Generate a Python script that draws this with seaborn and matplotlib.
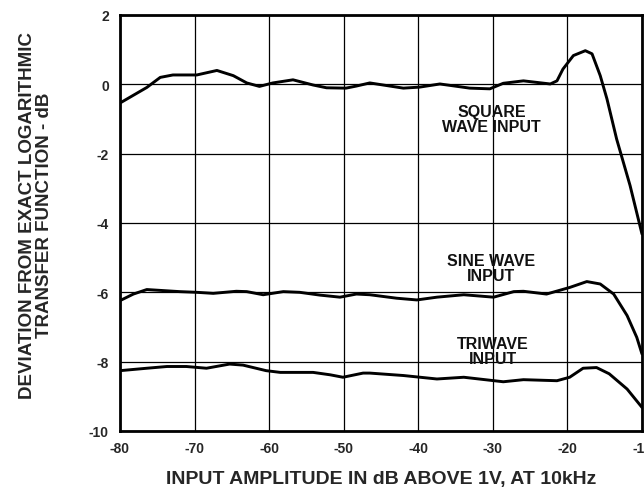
import pandas as pd
import matplotlib
matplotlib.use("Agg")
import matplotlib.pyplot as plt
import seaborn as sns

# Square wave input (deviation in dB vs input amplitude in dB above 1V)
square_x = [-80, -76.4, -74.6, -72.9, -69.7, -67.0, -64.8, -63.0, -61.3, -59.5, -56.8,
            -54.1, -52.3, -49.7, -48.3, -46.5, -42.0, -39.8, -37.1, -33.1, -30.4, -28.6,
            -25.9, -22.3, -21.4, -20.6, -19.2, -17.6, -16.7, -15.6, -14.7, -13.4, -11.6, -10.0]
square_y = [-0.54, -0.09, 0.20, 0.27, 0.27, 0.40, 0.25, 0.04, -0.06, 0.04, 0.13,
            -0.02, -0.10, -0.11, -0.05, 0.04, -0.11, -0.08, 0.01, -0.11, -0.13, 0.03,
            0.10, 0.01, 0.10, 0.44, 0.83, 0.97, 0.88, 0.25, -0.42, -1.58, -2.92, -4.32]

# Sine wave input
sine_x = [-80, -78.2, -76.4, -74.2, -72.0, -69.7, -67.5, -64.4, -63.0, -60.8, -58.1,
          -55.9, -53.2, -50.5, -48.3, -46.5, -42.9, -40.2, -37.5, -33.9, -29.9, -27.2,
          -25.9, -22.8, -19.7, -17.4, -15.6, -13.8, -12.0, -10.7, -10.0]
sine_y = [-6.24, -6.05, -5.92, -5.95, -5.98, -6.00, -6.03, -5.97, -5.98, -6.07, -5.98,
          -6.00, -6.08, -6.14, -6.05, -6.07, -6.17, -6.22, -6.14, -6.07, -6.14, -5.98,
          -5.97, -6.05, -5.86, -5.69, -5.76, -6.05, -6.67, -7.30, -7.78]

# Triwave input
tri_x = [-80, -76.4, -73.7, -71.1, -68.4, -65.3, -63.5, -60.4, -58.5, -54.1, -51.8,
         -50.1, -47.4, -46.5, -42.0, -37.5, -33.9, -28.6, -25.9, -21.4, -19.7, -17.9,
         -16.1, -14.4, -12.0, -10.0]
tri_y = [-8.26, -8.19, -8.14, -8.14, -8.19, -8.07, -8.10, -8.26, -8.31, -8.31, -8.38,
         -8.45, -8.33, -8.33, -8.40, -8.50, -8.45, -8.58, -8.52, -8.55, -8.45, -8.19,
         -8.17, -8.35, -8.79, -9.32]

x_ticks = [-80, -70, -60, -50, -40, -30, -20, -10]
y_ticks = [-10, -8, -6, -4, -2, 0, 2]

curve_labels = ["SQUARE\nWAVE INPUT", "SINE WAVE\nINPUT", "TRIWAVE\nINPUT"]
label_pos = [(-30.2, -1.0), (-30.2, -5.3), (-30.0, -7.7)]

sns.set_style("white")
plt.rcParams["font.family"] = ["Liberation Sans", "DejaVu Sans"]
plt.rcParams["font.weight"] = "bold"

fig = plt.figure(figsize=(6.44, 4.89), dpi=100)
ax = fig.add_axes([0.1863, 0.1166, 0.8106, 0.8507])

for xs, ys in [(square_x, square_y), (sine_x, sine_y), (tri_x, tri_y)]:
    df = pd.DataFrame({"x": xs, "y": ys})
    sns.lineplot(data=df, x="x", y="y", ax=ax, color="black", linewidth=2.1,
                 estimator=None, sort=False)

for text, (tx, ty) in zip(curve_labels, label_pos):
    ax.text(tx, ty, text, ha="center", va="center", fontsize=11.5,
            fontweight="bold", linespacing=1.0, color="#111111")

ax.set_xlim(-80, -10)
ax.set_ylim(-10, 2)
ax.set_xticks(x_ticks)
ax.set_yticks(y_ticks)
ax.set_xticklabels([str(t) for t in x_ticks], fontsize=10, fontweight="bold")
ax.set_yticklabels([str(t) for t in y_ticks], fontsize=10, fontweight="bold")
ax.tick_params(axis="both", length=0)
ax.tick_params(axis="y", pad=8)
ax.tick_params(axis="x", pad=7)
ax.grid(True, color="black", linewidth=0.9)
ax.set_axisbelow(True)
for side in ["left", "bottom", "top", "right"]:
    ax.spines[side].set_color("black")
    ax.spines[side].set_linewidth(2)

ax.set_xlabel("INPUT AMPLITUDE IN dB ABOVE 1V, AT 10kHz", fontsize=14,
              fontweight="bold", labelpad=11)
ax.set_ylabel("DEVIATION FROM EXACT LOGARITHMIC\nTRANSFER FUNCTION - dB",
              fontsize=13.5, fontweight="bold", linespacing=1.0)
ax.yaxis.set_label_coords(-0.128, 0.52)

fig.savefig("out.png", dpi=100)
